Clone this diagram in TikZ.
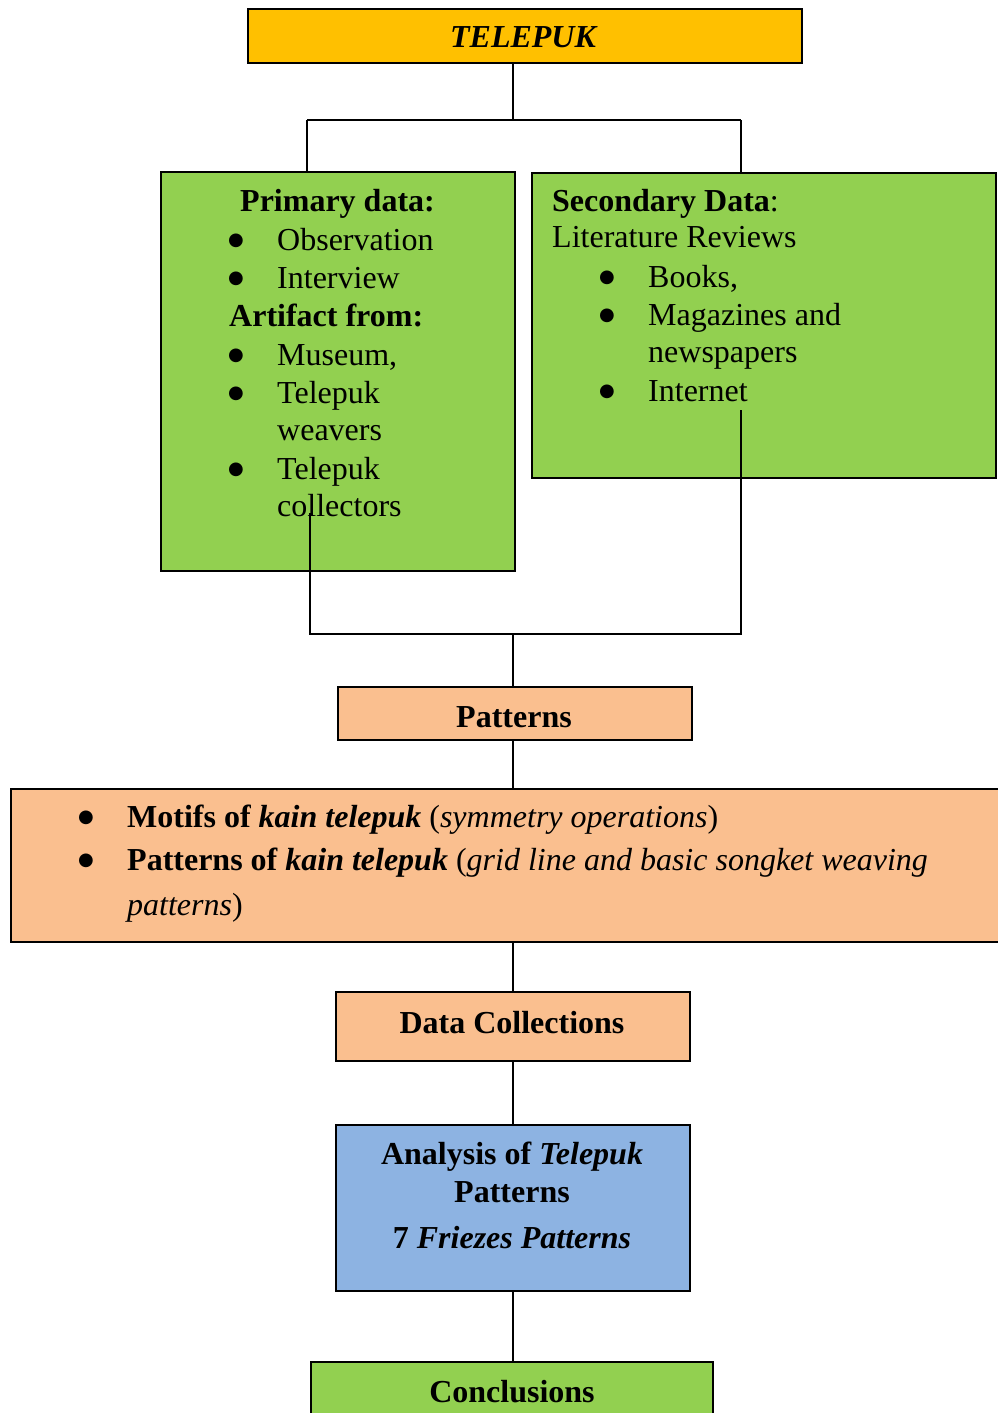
\documentclass[tikz,border=0pt]{standalone}
\usepackage{fontspec}
\setmainfont{Liberation Serif}
\newfontfamily\symfont{DejaVu Sans}
\definecolor{topc}{HTML}{FFC000}
\definecolor{greenc}{HTML}{92D050}
\definecolor{orangec}{HTML}{FABF8F}
\definecolor{bluec}{HTML}{8DB3E2}
\newcommand{\bulsym}{\raisebox{4.5pt}{●}}
\begin{document}
\begin{tikzpicture}[x=1pt,y=-1pt,
  box/.style={draw=black, line width=1.8pt, inner sep=0pt, anchor=north west},
  conn/.style={draw=black, line width=1.5pt},
  txt/.style={inner sep=0pt, anchor=base west, font=\fontsize{32}{38}\selectfont},
  ctxt/.style={inner sep=0pt, anchor=base, font=\fontsize{32}{38}\selectfont\bfseries},
  bul/.style={inner sep=0pt, anchor=base, font=\fontsize{18}{22}\selectfont\symfont}]
\useasboundingbox (0,0) rectangle (998,1413);
% boxes
\node[box, fill=topc, minimum width=554pt, minimum height=54pt] (telepuk) at (247,8) {};
\node[box, fill=greenc, minimum width=354pt, minimum height=399pt] (prim) at (160,171) {};
\node[box, fill=greenc, minimum width=464pt, minimum height=305pt] (sec) at (531,172) {};
\node[box, fill=orangec, minimum width=354pt, minimum height=53pt] (pat) at (337,686) {};
\node[box, fill=orangec, minimum width=994pt, minimum height=153pt] (wide) at (10,788) {};
\node[box, fill=orangec, minimum width=354pt, minimum height=69pt] (dc) at (335,991) {};
\node[box, fill=bluec, minimum width=354pt, minimum height=166pt] (ana) at (335,1124) {};
\node[box, fill=greenc, minimum width=402pt, minimum height=62pt] (conc) at (310,1361) {};
% texts
\node[ctxt, font=\fontsize{32}{38}\selectfont\bfseries\itshape] (tTel) at (523,48) {TELEPUK};
\node[txt, font=\fontsize{32}{38}\selectfont\bfseries] (tPrim) at (240,211) {Primary data:};
\node[bul] (b1) at (236,250) {\bulsym};
\node[txt] (tObs) at (277,250) {Observation};
\node[bul] (b2) at (236,288) {\bulsym};
\node[txt] (tInt) at (277,288) {Interview};
\node[txt, font=\fontsize{32}{38}\selectfont\bfseries] (tArt) at (229,326) {Artifact from:};
\node[bul] (b3) at (236,365) {\bulsym};
\node[txt] (tMus) at (277,365) {Museum,};
\node[bul] (b4) at (236,403) {\bulsym};
\node[txt] (tTw1) at (277,403) {Telepuk};
\node[txt] (tTw2) at (277,440) {weavers};
\node[bul] (b5) at (236,479) {\bulsym};
\node[txt] (tTc1) at (277,479) {Telepuk};
\node[txt] (tTc2) at (277,516) {collectors};
\node[txt] (tSec) at (552,211) {\textbf{Secondary Data}:};
\node[txt] (tLit) at (552,247) {Literature Reviews};
\node[bul] (b6) at (607,287) {\bulsym};
\node[txt] (tBoo) at (648,287) {Books,};
\node[bul] (b7) at (607,325) {\bulsym};
\node[txt] (tMag1) at (648,325) {Magazines and};
\node[txt] (tMag2) at (648,362) {newspapers};
\node[bul] (b8) at (607,401) {\bulsym};
\node[txt] (tIntn) at (648,401) {Internet};
\node[ctxt] (tPat) at (514,727) {Patterns};
\node[bul] (b9) at (86,827) {\bulsym};
\node[txt] (tW1) at (127,827) {\textbf{Motifs of \textit{kain telepuk}} (\textit{symmetry operations})};
\node[bul] (b10) at (86,870) {\bulsym};
\node[txt] (tW2) at (127,870) {\textbf{Patterns of \textit{kain telepuk}} (\textit{grid line and basic songket weaving}};
\node[txt] (tW3) at (127,915) {\textit{patterns})};
\node[ctxt] (tDC) at (512,1033) {Data Collections};
\node[ctxt] (tA1) at (512,1164) {Analysis of \textit{Telepuk}};
\node[ctxt] (tA2) at (512,1202) {Patterns};
\node[ctxt] (tA3) at (512,1248) {7 \textit{Friezes Patterns}};
\node[ctxt] (tCon) at (512,1402) {Conclusions};
% connector coordinates
\coordinate (jtop) at (513,120);
\coordinate (jl) at (307,120);
\coordinate (jr) at (741,120);
\coordinate (lstart) at (310,513);
\coordinate (rstart) at (741,410);
\coordinate (bl) at (310,634);
\coordinate (br) at (741,634);
\coordinate (bm) at (513,634);
% connectors
\draw[conn] (telepuk.south -| jtop) -- (jtop);
\draw[conn] (jl) -- (jr);
\draw[conn] (jl) -- (jl |- prim.north);
\draw[conn] (jr) -- (jr |- sec.north);
\draw[conn] (lstart) -- (bl) -- (br) -- (rstart);
\draw[conn] (bm) -- (bm |- pat.north);
\draw[conn] (pat.south -| bm) -- (wide.north -| bm);
\draw[conn] (wide.south -| bm) -- (dc.north -| bm);
\draw[conn] (dc.south -| bm) -- (ana.north -| bm);
\draw[conn] (ana.south -| bm) -- (conc.north -| bm);
\end{tikzpicture}
\end{document}
